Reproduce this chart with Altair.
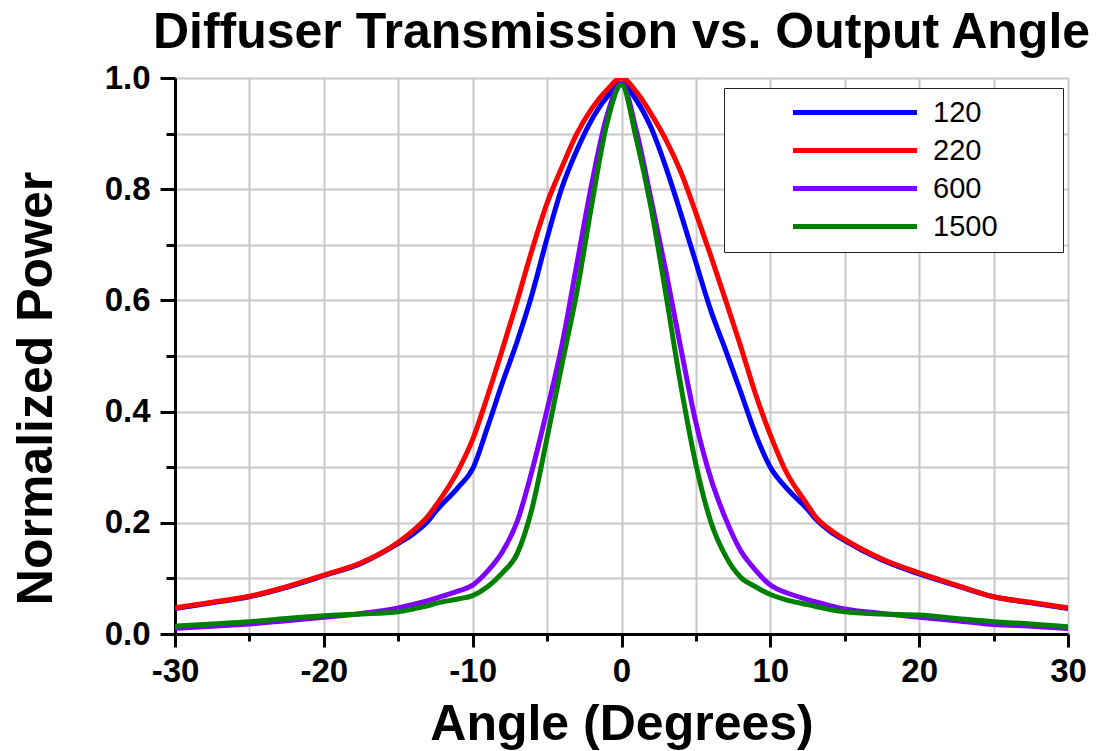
import altair as alt
import pandas as pd

# ---- data ----
angles = [-30, -27.5, -25, -22.5, -20, -17.5, -15, -14, -13, -12.5, -11, -10, -9, -8, -7, -6, -5, -4, -3, -2, -1,
          0,
          1, 2, 3, 4, 5, 6, 7, 8, 9, 10, 11, 12.5, 13, 14, 15, 17.5, 20, 22.5, 25, 27.5, 30]

p120 = [0.046, 0.056, 0.067, 0.084, 0.105, 0.127, 0.163, 0.180, 0.203, 0.220, 0.263, 0.297, 0.372, 0.452, 0.527,
        0.612, 0.712, 0.803, 0.870, 0.925, 0.965,
        0.990,
        0.960, 0.910, 0.838, 0.755, 0.668, 0.582, 0.510, 0.436, 0.360, 0.300, 0.265, 0.224, 0.208, 0.185, 0.168,
        0.133, 0.108, 0.087, 0.067, 0.056, 0.046]

p220 = [0.047, 0.057, 0.068, 0.085, 0.106, 0.128, 0.165, 0.186, 0.212, 0.230, 0.293, 0.350, 0.428, 0.512, 0.600,
        0.692, 0.775, 0.840, 0.900, 0.945, 0.978,
        1.000,
        0.975, 0.935, 0.888, 0.830, 0.757, 0.680, 0.600, 0.518, 0.432, 0.358, 0.295, 0.232, 0.212, 0.188, 0.170,
        0.135, 0.110, 0.088, 0.067, 0.057, 0.047]

p600 = [0.010, 0.014, 0.018, 0.024, 0.030, 0.037, 0.047, 0.053, 0.060, 0.064, 0.077, 0.088, 0.113, 0.148, 0.203,
        0.295, 0.403, 0.520, 0.665, 0.810, 0.930,
        0.990,
        0.905, 0.780, 0.650, 0.512, 0.380, 0.280, 0.207, 0.150, 0.115, 0.088, 0.075, 0.062, 0.058, 0.051, 0.045,
        0.037, 0.030, 0.024, 0.017, 0.014, 0.010]

p1500 = [0.014, 0.018, 0.022, 0.028, 0.033, 0.036, 0.040, 0.045, 0.051, 0.055, 0.063, 0.069, 0.085, 0.110, 0.145,
         0.227, 0.353, 0.485, 0.615, 0.772, 0.916,
         0.988,
         0.890, 0.765, 0.608, 0.445, 0.305, 0.202, 0.140, 0.102, 0.085, 0.071, 0.062, 0.053, 0.050, 0.044, 0.040,
         0.036, 0.034, 0.028, 0.022, 0.018, 0.013]

series_names = ["120", "220", "600", "1500"]
series_colors = ["#0000ff", "#ff0000", "#8000ff", "#008000"]

x_ticks = list(range(-30, 31, 5))
y_ticks = [round(i * 0.1, 1) for i in range(11)]

rows = []
for name, vals in zip(series_names, [p120, p220, p600, p1500]):
    for a, v in zip(angles, vals):
        rows.append({"angle": a, "power": v, "grit": name})
df = pd.DataFrame(rows)

FONT = "Liberation Sans"

x_axis = alt.Axis(
    values=x_ticks,
    labelExpr="datum.value % 10 === 0 ? (datum.value < 0 ? '-' + abs(datum.value) : '' + datum.value) : ''",
    title="Angle (Degrees)",
    titleFont=FONT, titleFontSize=50, titleFontWeight="bold", titleColor="black",
    titleBaseline="alphabetic", titleY=105,
    labelFont=FONT, labelFontSize=33, labelFontWeight="bold", labelColor="black",
    labelPadding=8, labelFlush=False, labelOverlap=False,
    domainColor="black", domainWidth=3,
    tickColor="black", tickWidth=3, tickSize=13,
    tickDash=alt.condition("datum.value % 10 === 0", alt.value([13, 0]), alt.value([7, 30])),
    grid=True, gridColor="#c8c8c8", gridWidth=2,
)

y_axis = alt.Axis(
    values=y_ticks,
    labelExpr="round(datum.value * 10) % 2 === 0 ? format(datum.value, '.1f') : ''",
    title="Normalized Power",
    titleFont=FONT, titleFontSize=50, titleFontWeight="bold", titleColor="black",
    titleBaseline="alphabetic", titleAngle=270, titleX=-124, titleY=310,
    labelFont=FONT, labelFontSize=33, labelFontWeight="bold", labelColor="black",
    labelPadding=10, labelOverlap=False,
    domainColor="black", domainWidth=3,
    tickColor="black", tickWidth=3, tickSize=15,
    tickDash=alt.condition("round(datum.value * 10) % 2 === 0", alt.value([15, 0]), alt.value([9, 30])),
    grid=True, gridColor="#c8c8c8", gridWidth=2,
)

legend = alt.Legend(
    title=None, orient="none", legendX=549, legendY=10,
    symbolType="M -1.208 0 M 3.708 0 H 14.04 M 24.46 0",
    symbolSize=576, symbolStrokeWidth=5,
    labelFont=FONT, labelFontSize=29, labelColor="black", labelOffset=170,
    rowPadding=8, padding=10,
    strokeColor="#222222", fillColor="white",
)

chart = alt.Chart(df).mark_line(strokeWidth=5, interpolate="monotone", clip=True).encode(
    x=alt.X("angle:Q", scale=alt.Scale(domain=[-30, 30], nice=False, zero=False), axis=x_axis),
    y=alt.Y("power:Q", scale=alt.Scale(domain=[0, 1], nice=False), axis=y_axis),
    color=alt.Color("grit:N", scale=alt.Scale(domain=series_names, range=series_colors), legend=legend),
).properties(
    width=893, height=556,
    title=alt.TitleParams("Diffuser Transmission vs. Output Angle", font=FONT, fontSize=50,
                          fontWeight="bold", color="black", anchor="middle", offset=4),
    autosize=alt.AutoSizeParams(type="none"),
    padding={"left": 167, "top": 70, "right": 33, "bottom": 117},
).configure_view(
    stroke="black", strokeWidth=3
).configure_legend(
    strokeWidth=1.5
).configure(background="white")

chart.save("out.html", embed_options={"renderer": "svg", "actions": False})
